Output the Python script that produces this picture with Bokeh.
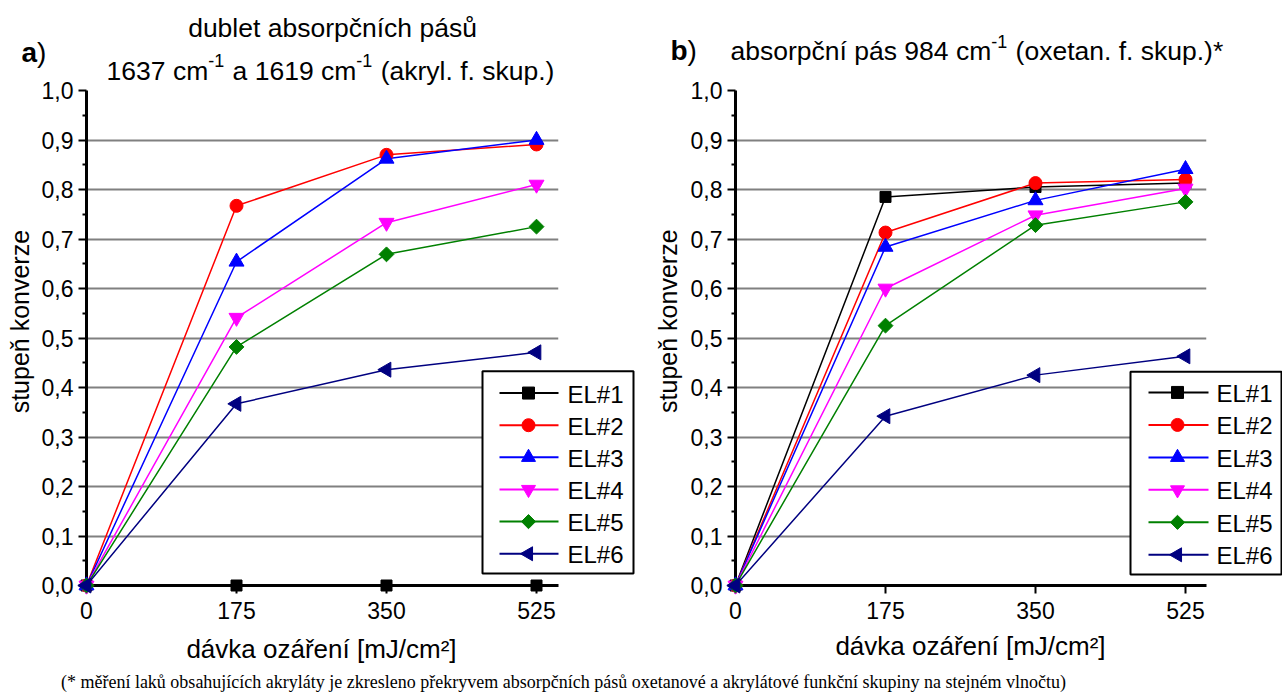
import numpy as np
from bokeh.plotting import figure
from bokeh.models import FixedTicker, CustomJSTickFormatter, Range1d
from bokeh.core.properties import value
from bokeh.layouts import row, column
from bokeh.embed import file_html
from bokeh.resources import INLINE

# ---------------- data ----------------
dose = [0, 175, 350, 525]
x_ticks = [0, 175, 350, 525]
y_ticks = [0.0, 0.1, 0.2, 0.3, 0.4, 0.5, 0.6, 0.7, 0.8, 0.9, 1.0]
y_minor = [0.05, 0.15, 0.25, 0.35, 0.45, 0.55, 0.65, 0.75, 0.85, 0.95]
series = ["EL#1", "EL#2", "EL#3", "EL#4", "EL#5", "EL#6"]

# a) dublet 1637 / 1619 cm-1 (akryl.)
a_el1 = [0.0, 0.0, 0.0, 0.0]
a_el2 = [0.0, 0.767, 0.870, 0.891]
a_el3 = [0.0, 0.654, 0.862, 0.900]
a_el4 = [0.0, 0.541, 0.733, 0.810]
a_el5 = [0.0, 0.482, 0.669, 0.725]
a_el6 = [0.0, 0.367, 0.436, 0.471]

# b) 984 cm-1 (oxetan.)
b_el1 = [0.0, 0.785, 0.805, 0.813]
b_el2 = [0.0, 0.713, 0.813, 0.820]
b_el3 = [0.0, 0.684, 0.778, 0.841]
b_el4 = [0.0, 0.600, 0.748, 0.802]
b_el5 = [0.0, 0.525, 0.728, 0.775]
b_el6 = [0.0, 0.342, 0.425, 0.463]

colors = ["#000000", "#FF0000", "#0000FF", "#FF00FF", "#008000", "#000080"]
marker_specs = [("square", 11, 0.0), ("circle", 13, 0.0), ("triangle", 15, 0.0),
                ("inverted_triangle", 15, 0.0), ("square", 10.5, np.pi / 4),
                ("triangle", 15, np.pi / 2)]
legend_sizes = [12, 13, 14, 14, 10, 14]

FONT = "Liberation Sans"
FOOTNOTE = ("(* měření laků obsahujících akryláty je zkresleno překryvem absorpčních "
            "pásů oxetanové a akrylátové funkční skupiny na stejném vlnočtu)")

# Arial / Liberation Sans advance widths (per 1000 em)
W = {' ': 278, '#': 556, '(': 333, ')': 333, '*': 389, ',': 278, '-': 333, '.': 278,
     '/': 278, '[': 278, ']': 278, 'a': 556, 'b': 556, 'c': 500, 'd': 556, 'e': 556,
     'f': 278, 'h': 556, 'i': 222, 'k': 500, 'l': 222, 'm': 833, 'n': 556, 'o': 556,
     'p': 556, 'r': 333, 's': 500, 't': 278, 'u': 556, 'v': 500, 'x': 500, 'y': 500,
     'z': 500, 'á': 556, 'í': 278, 'č': 500, 'ů': 556}


def tw(s, size):
    return sum(W.get(c, 556) for c in s) * size / 1000.0


CH = 667  # canvas height of the two chart figures


def make_fig(gx0, cw, fl, fr, ft, fb, x_at_525):
    """gx0: global x of canvas; fl..fb: global pixel frame edges."""
    xmax = 525.0 * (fr - fl) / (x_at_525 - fl)
    p = figure(width=cw, height=CH, x_range=Range1d(0, xmax), y_range=Range1d(0, 1),
               output_backend="svg", toolbar_location=None,
               min_border_left=fl - gx0, min_border_right=gx0 + cw - fr,
               min_border_top=ft, min_border_bottom=CH - fb,
               outline_line_color=None, background_fill_color="white",
               border_fill_color="white")
    p.xaxis.ticker = FixedTicker(ticks=x_ticks, minor_ticks=[])
    p.yaxis.ticker = FixedTicker(ticks=y_ticks, minor_ticks=y_minor)
    p.ygrid.ticker = FixedTicker(ticks=y_ticks, minor_ticks=[])
    p.yaxis.formatter = CustomJSTickFormatter(code="return tick.toFixed(1).replace('.', ',');")
    p.xgrid.grid_line_color = None
    p.ygrid.grid_line_color = "#808080"
    p.ygrid.grid_line_width = 2
    for ax in (p.xaxis, p.yaxis):
        ax.axis_line_width = 3
        ax.axis_line_color = "black"
        ax.major_tick_line_width = 2
        ax.major_tick_line_color = "black"
        ax.major_tick_out = 8
        ax.major_tick_in = 0
        ax.minor_tick_line_width = 2
        ax.minor_tick_line_color = "black"
        ax.minor_tick_out = 4
        ax.minor_tick_in = 0
        ax.major_label_text_font = FONT
        ax.major_label_text_font_size = "23px"
        ax.major_label_text_color = "black"
    p.xaxis.major_label_standoff = 8
    p.yaxis.major_label_standoff = 5

    def fx(px):
        return (px - fl) / (fr - fl) * xmax

    def fy(py):
        return (fb - py) / (fb - ft)

    return p, fx, fy


def txt(p, fx, fy, px, py, text, size, align="left", baseline="alphabetic",
        angle=0.0, bold=False, font=FONT):
    p.text(x=[fx(px)], y=[fy(py)], text=[text], angle=angle,
           text_align=value(align), text_baseline=value(baseline),
           text_font=value(font), text_font_size=value(f"{size}px"),
           text_font_style=value("bold" if bold else "normal"),
           text_color="black", level="overlay")


def add_series(p, data):
    for col, (mk, sz, ang), vals in zip(colors, marker_specs, data):
        p.line(dose, vals, line_color=col, line_width=1.5)
        p.scatter(dose, vals, marker=mk, size=sz, angle=ang,
                  fill_color=col, line_color=col, level="overlay")


def draw_legend(p, fx, fy, box, row0, pitch, lx0, lx1, mx, tx):
    l, r, t, b = box
    p.quad(left=[fx(l)], right=[fx(r)], top=[fy(t)], bottom=[fy(b)],
           fill_color="white", line_color="black", line_width=2, level="overlay")
    for i, (name, col, (mk, sz, ang), lsz) in enumerate(
            zip(series, colors, marker_specs, legend_sizes)):
        ry = row0 + i * pitch
        p.segment(x0=[fx(lx0)], y0=[fy(ry)], x1=[fx(lx1)], y1=[fy(ry)],
                  line_color=col, line_width=2, level="overlay")
        p.scatter([fx(mx)], [fy(ry)], marker=mk, size=lsz, angle=ang,
                  fill_color=col, line_color=col, level="overlay")
        txt(p, fx, fy, tx, ry + 1, name, 24, baseline="middle")


def rich(p, fx, fy, x0, base, segs):
    """Draw a line of text made of segments (text, size, raise, bold)."""
    x = x0
    for text, size, dy, bold in segs:
        stripped = text.lstrip(" ")
        x += tw(text[:len(text) - len(stripped)], size)   # SVG drops leading spaces
        txt(p, fx, fy, x, base - dy, stripped, size, bold=bold)
        if bold:
            x += size * (0.556 if stripped == "a" else 0.611)
        else:
            x += tw(stripped, size)
        if dy:
            x += 1


def seg_width(segs):
    return sum(tw(s, z) + (1 if d else 0) for s, z, d, b in segs)


# ---------------- figure a ----------------
pa, fxa, fya = make_fig(0, 640, 86, 558, 86, 585, 536)
add_series(pa, [a_el1, a_el2, a_el3, a_el4, a_el5, a_el6])
draw_legend(pa, fxa, fya, (482, 633, 369, 573), 391, 32.4, 499, 558, 528, 567)

T = 26.5
S = 18
line1 = "dublet absorpčních pásů"
rich(pa, fxa, fya, 332 - tw(line1, T) / 2, 23, [(line1, T, 0, False)])
segs2 = [("1637 cm", T, 0, False), ("-1", S, 10, False), (" a 1619 cm", T, 0, False),
         ("-1", S, 10, False), (" (akryl. f. skup.)", T, 0, False)]
rich(pa, fxa, fya, 330 - seg_width(segs2) / 2, 66, segs2)
rich(pa, fxa, fya, 21, 48, [("a", 28, 0, True), (")", 28, 0, False)])
txt(pa, fxa, fya, 19, 319, "stupeň konverze", 25, align="center", baseline="middle",
    angle=np.pi / 2)
txt(pa, fxa, fya, 321, 649, "dávka ozáření [mJ/cm²]", 26, align="center",
    baseline="middle")

# ---------------- figure b ----------------
pb, fxb, fyb = make_fig(640, 642, 735, 1206, 90, 590, 1185)
add_series(pb, [b_el1, b_el2, b_el3, b_el4, b_el5, b_el6])
draw_legend(pb, fxb, fyb, (1130, 1281, 374, 579), 395, 32.8, 1148, 1208, 1177, 1216)

segsb = [("absorpční pás 984 cm", T, 0, False), ("-1", S, 10, False),
         (" (oxetan. f. skup.)*", T, 0, False)]
rich(pb, fxb, fyb, 730, 50, segsb)
rich(pb, fxb, fyb, 670, 50, [("b", 28, 0, True), (")", 28, 0, False)])
txt(pb, fxb, fyb, 667, 323, "stupeň konverze", 25, align="center", baseline="middle",
    angle=np.pi / 2)
txt(pb, fxb, fyb, 970, 651, "dávka ozáření [mJ/cm²]", 26, align="center",
    baseline="middle")

# ---------------- footnote ----------------
FH = 696 - CH
pf = figure(width=1282, height=FH, x_range=Range1d(0, 1282), y_range=Range1d(0, FH),
            x_axis_type=None, y_axis_type=None, output_backend="svg",
            toolbar_location=None, min_border=0, outline_line_color=None,
            background_fill_color="white", border_fill_color="white")
pf.text(x=[563], y=[FH / 2], text=[FOOTNOTE],
        text_align=value("center"), text_baseline=value("middle"),
        text_font=value("Liberation Serif"), text_font_size=value("18px"),
        text_color="black")

layout = column(row(pa, pb, spacing=0), pf, spacing=0)
open("out.html", "w").write(file_html(layout, INLINE))
